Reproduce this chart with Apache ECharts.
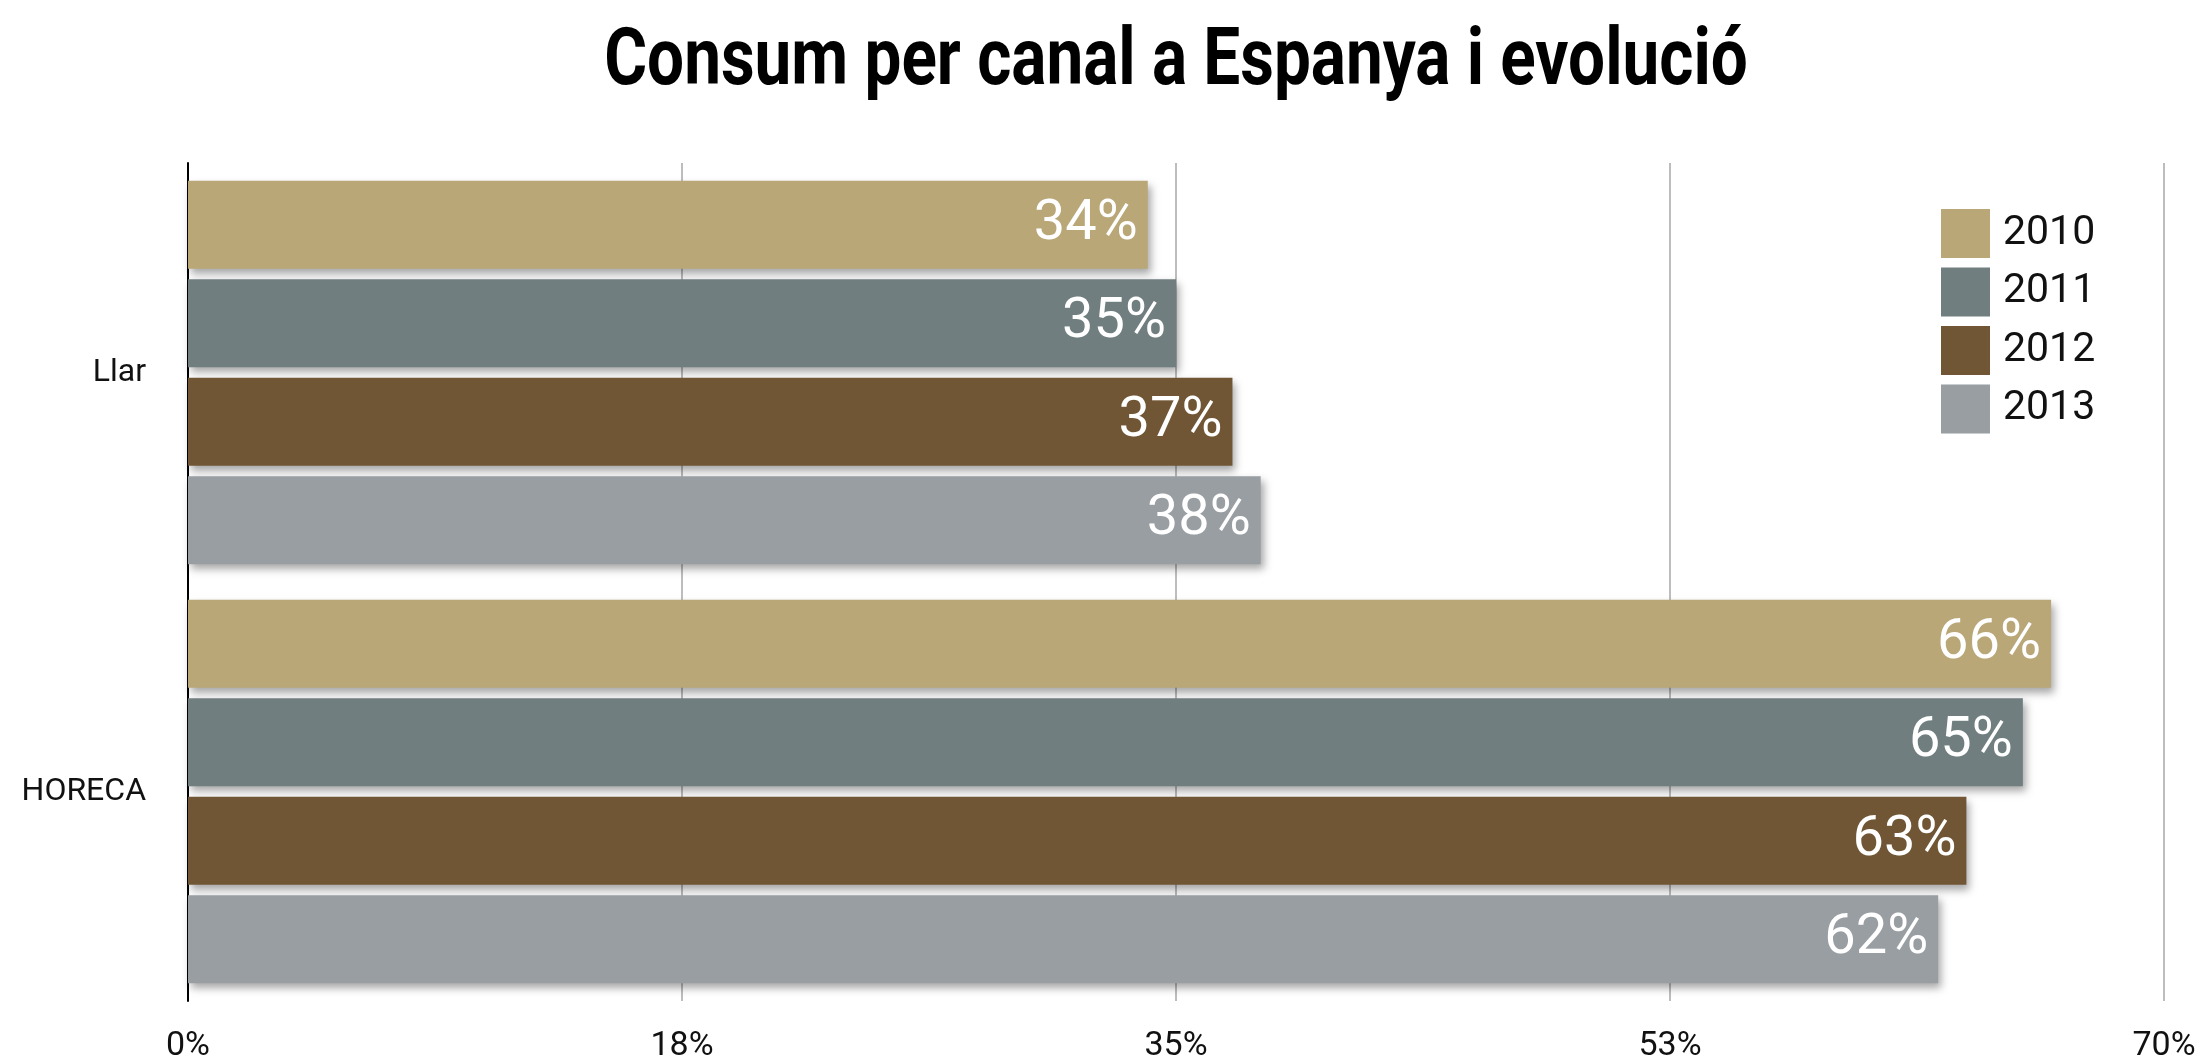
<!DOCTYPE html>
<html>
<head>
<meta charset="utf-8">
<script src="https://cdn.jsdelivr.net/npm/echarts@6/dist/echarts.min.js"></script>
<style>
  html, body { margin: 0; padding: 0; background: #ffffff; }
  #chart { width: 2203px; height: 1063px; }
</style>
</head>
<body>
<div id="chart"></div>
<script>
// Share of consumption by channel in Spain, per year (percent)
const channels = ['Llar', 'HORECA'];
const years = ['2010', '2011', '2012', '2013'];
const values2010 = [34, 66];
const values2011 = [35, 65];
const values2012 = [37, 63];
const values2013 = [38, 62];
const seriesValues = [values2010, values2011, values2012, values2013];
const yearColors = ['#b9a778', '#707e7f', '#705634', '#989ea2'];

const textFont = 'Roboto, sans-serif';

const chart = echarts.init(document.getElementById('chart'), null, { renderer: 'canvas' });

chart.setOption({
  backgroundColor: '#ffffff',
  animation: false,
  graphic: [{
    // heading, drawn narrow and heavy
    type: 'text',
    x: 1176,
    y: 64,
    scaleX: 0.82,
    style: {
      text: 'Consum per canal a Espanya i evolució',
      align: 'center',
      verticalAlign: 'middle',
      fontFamily: textFont,
      fontWeight: 'bold',
      fontSize: 80,
      fill: '#000000'
    }
  }],
  legend: {
    orient: 'vertical',
    left: 1941,
    top: 209,
    padding: 0,
    itemWidth: 49,
    itemHeight: 49,
    itemGap: 9.5,
    icon: 'rect',
    data: years,
    itemStyle: { borderWidth: 0 },
    textStyle: {
      fontFamily: textFont,
      fontSize: 41,
      lineHeight: 41,
      color: '#111111',
      padding: [0, 0, 0, 8]
    }
  },
  grid: {
    left: 188,
    right: 39,
    top: 163,
    bottom: 62,
    containLabel: false
  },
  xAxis: {
    type: 'value',
    min: 0,
    max: 70,
    interval: 17.5,
    axisLine: { show: false },
    axisTick: { show: false },
    splitLine: { show: true, lineStyle: { color: '#bdbdbd', width: 2 } },
    axisLabel: {
      margin: 28,
      fontFamily: textFont,
      fontSize: 34,
      lineHeight: 34,
      color: '#111111',
      formatter: function (v) { return Math.round(v) + '%'; }
    }
  },
  yAxis: {
    type: 'category',
    inverse: true,
    data: channels,
    axisLine: { show: true, lineStyle: { color: '#000000', width: 2 } },
    axisTick: { show: false },
    axisLabel: {
      margin: 42,
      fontFamily: textFont,
      fontSize: 32,
      color: '#111111'
    }
  },
  series: years.map(function (year, i) {
    return {
      name: year,
      type: 'bar',
      data: seriesValues[i],
      barWidth: 88,
      barGap: '12%',
      itemStyle: {
        color: yearColors[i],
        shadowColor: 'rgba(0,0,0,0.35)',
        shadowBlur: 8,
        shadowOffsetX: 3,
        shadowOffsetY: 5
      },
      label: {
        show: true,
        position: 'insideRight',
        distance: 10,
        color: '#ffffff',
        fontFamily: textFont,
        fontSize: 56,
        formatter: '{c}%'
      }
    };
  })
});
</script>
</body>
</html>
